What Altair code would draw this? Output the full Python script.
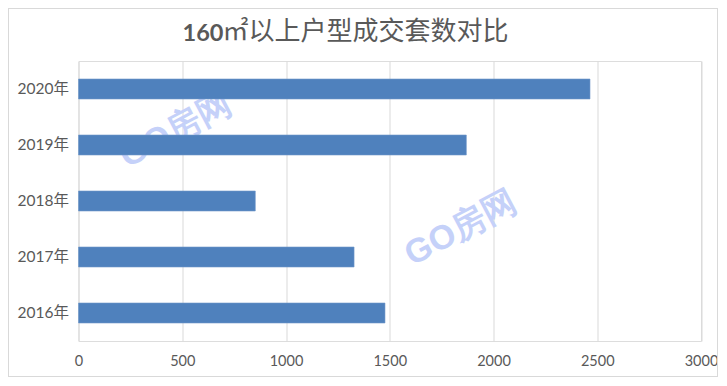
import altair as alt
import pandas as pd

years = ["2020年", "2019年", "2018年", "2017年", "2016年"]
counts = [2465, 1869, 852, 1328, 1477]
x_ticks = [0, 500, 1000, 1500, 2000, 2500, 3000]
title_num = "160"
title_rest = "㎡以上户型成交套数对比"
watermark = "GO房网"

df = pd.DataFrame({"year": years, "count": counts})

W, H = 622.5, 280
PAD_L, PAD_T = 70.5, 53
TOTAL_W, TOTAL_H = 710, 369

base = alt.Chart(df)

border = base.mark_rect(filled=False, stroke="#d9d9d9", strokeWidth=1).encode(
    x=alt.value(-PAD_L + 0.5), x2=alt.value(TOTAL_W - PAD_L - 0.5),
    y=alt.value(-PAD_T + 0.5), y2=alt.value(TOTAL_H - PAD_T - 0.5),
)

wm1 = alt.Chart(pd.DataFrame({"t": [watermark]})).mark_text(
    font="Liberation Sans", fontSize=34, fontWeight="bold", color="#c5d1f9",
    angle=332, align="center", baseline="middle",
).encode(x=alt.value(97.5), y=alt.value(70), text="t:N")
wm2 = alt.Chart(pd.DataFrame({"t": [watermark]})).mark_text(
    font="Liberation Sans", fontSize=34, fontWeight="bold", color="#c5d1f9",
    angle=332, align="center", baseline="middle",
).encode(x=alt.value(382.5), y=alt.value(168), text="t:N")

bars = base.mark_bar(color="#4f81bd", stroke="#6f97c9", strokeWidth=0.6).encode(
    x=alt.X(
        "count:Q",
        scale=alt.Scale(domain=[0, 3000], nice=False),
        axis=alt.Axis(
            values=x_ticks, format="d", title=None, domain=False, ticks=False,
            grid=True, gridColor="#d9d9d9", gridWidth=1,
            labelColor="#595959", labelFont="Lato", labelFontSize=14.5,
            labelPadding=13, labelFlush=False,
        ),
    ),
    y=alt.Y(
        "year:N",
        sort=years,
        scale=alt.Scale(paddingInner=0.643, paddingOuter=0.3215),
        axis=alt.Axis(
            title=None, domain=False, ticks=False, grid=False,
            labelColor="#595959", labelFont="Lato, Noto Sans CJK SC",
            labelFontSize=15.5, labelPadding=10,
        ),
    ),
)

t1 = alt.Chart(pd.DataFrame({"t": [title_num]})).mark_text(
    font="Lato", fontSize=23.5, fontWeight="bold", color="#595959",
    align="right", baseline="alphabetic",
).encode(x=alt.value(145), y=alt.value(-20), text="t:N")
t2 = alt.Chart(pd.DataFrame({"t": [title_rest]})).mark_text(
    font="Noto Sans CJK SC", fontSize=26, color="#595959",
    align="left", baseline="alphabetic",
).encode(x=alt.value(144), y=alt.value(-21), text="t:N")

chart = alt.layer(border, wm1, wm2, bars, t1, t2).properties(
    width=W, height=H,
    autosize=alt.AutoSizeParams(type="none"),
    padding={"left": PAD_L, "top": PAD_T,
             "right": TOTAL_W - PAD_L - W, "bottom": TOTAL_H - PAD_T - H},
).configure_view(stroke=None).configure(background="white")

chart.save("out.html", embed_options={"renderer": "svg", "actions": False})
